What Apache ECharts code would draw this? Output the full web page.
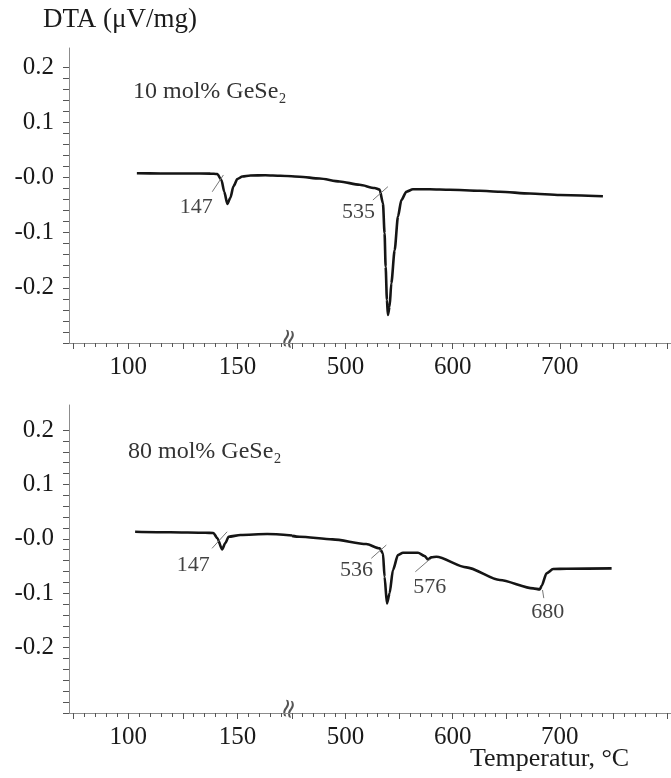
<!DOCTYPE html>
<html>
<head>
<meta charset="utf-8">
<script src="https://cdn.jsdelivr.net/npm/echarts@6/dist/echarts.min.js"></script>
<style>
  html, body { margin: 0; padding: 0; background: #fff; }
  #chart { width: 671px; height: 778px; }
</style>
</head>
<body>
<div id="chart"></div>
<script>
// temperatures (°C) and DTA signal (uV/mg), split at the axis break
var t10Left  = [104, 115, 128, 137.6, 140.8, 142.7, 144.0, 145.4, 146.8, 148.2, 150.0, 152.3, 156, 162.8, 169.7, 175];
var dta10Left = [0.0074, 0.0072, 0.0071, 0.0069, 0.0062, -0.0047, -0.026, -0.048, -0.037, -0.016, -0.003, 0.0016, 0.0034, 0.0038, 0.0029, 0.002];
var t10Right = [450, 457, 475.7, 494.4, 513.1, 527.1, 531.8, 534.9, 536.4, 537.4, 538.6, 539.5, 541.1, 542.7, 545.8, 548.9, 552.1, 556.7, 562.9, 578.5, 597.2, 625.2, 643.9, 672, 700, 740.2];
var dta10Right = [0.002, 0.0013, -0.002, -0.0074, -0.0134, -0.0192, -0.0219, -0.047, -0.101, -0.162, -0.222, -0.249, -0.234, -0.192, -0.132, -0.071, -0.041, -0.026, -0.0216, -0.0216, -0.0225, -0.0243, -0.0259, -0.0292, -0.0319, -0.0342];

var t80Left  = [103.2, 119.3, 135.3, 139.0, 140.8, 143.0, 144.5, 146.0, 151.4, 163.6, 175];
var dta80Left = [0.0131, 0.0121, 0.0112, 0.0107, 0.0015, -0.0193, -0.0077, 0.0039, 0.007, 0.0088, 0.0061];
var t80Right = [450, 457, 487.9, 519.3, 531.8, 534.9, 536.4, 538.6, 541.1, 544.2, 548.9, 553.6, 567.6, 573.8, 576.9, 580.1, 584.8, 612.8, 643.9, 675, 681.3, 682.9, 687.6, 693.7, 706.3, 748.3];
var dta80Right = [0.0055, 0.0039, -0.0009, -0.0096, -0.0175, -0.0267, -0.0697, -0.1186, -0.1002, -0.0574, -0.0298, -0.0256, -0.0256, -0.0316, -0.0377, -0.034, -0.0329, -0.0524, -0.0757, -0.091, -0.0928, -0.0868, -0.0634, -0.0555, -0.055, -0.0542];

// peak temperatures and where their numbers sit (data units)
var peaks10 = ['147', '535'];
var peakAt10 = [[131.2, -0.054], [512.1, -0.063]];
var peaks80 = ['147', '536', '576', '680'];
var peakAt80 = [[129.8, -0.048], [510.3, -0.057], [578.5, -0.0885], [688.8, -0.135]];

// small onset marker strokes [[t1, v1], [t2, v2]]
var marks10 = [[[138.5, -0.026], [143.6, 0.0044]], [[525.5, -0.041], [539.5, -0.0168]]];
var marks80 = [[[138.4, -0.0175], [145.3, 0.013]], [[524, -0.0358], [538, -0.0114]], [[565.1, -0.0605], [578.5, -0.0377]], [[683.8, -0.094], [685, -0.109]]];

var leftLabels = [100, 150];
var rightLabels = [500, 600, 700];
var samples = ['10 mol% GeSe\u2082', '80 mol% GeSe\u2082'];

var serif = '"Liberation Serif", "Times New Roman", serif';
var ink = '#1a1a1a';
var axisGrey = '#8c8c8c';
var tickGrey = '#555';

function zip(a, b) {
  var out = [];
  for (var i = 0; i < a.length; i++) out.push([a[i], b[i]]);
  return out;
}

function yFmt(v) {
  var r = Math.round(v * 10);
  if (Math.abs(v * 10 - r) > 1e-6 || Math.abs(v) > 0.2 + 1e-9) return '';
  return r === 0 ? '-0.0' : (r / 10).toFixed(1);
}

// panel geometry: frame grid holds the long axis lines, L/R grids hold the two x ranges
var panels = [
  { top: 48, frameH: 295, dataTop: 67, dataH: 276, ymin: -0.3 },
  { top: 405, frameH: 308.5, dataTop: 430, dataH: 283, ymin: -0.32 }
];

var grids = [], xAxes = [], yAxes = [];
panels.forEach(function (p) {
  var g0 = grids.length;
  grids.push({ left: 69, top: p.top, width: 602, height: p.frameH });
  grids.push({ left: 73.5, top: p.dataTop, width: 218.5, height: p.dataH });
  grids.push({ left: 292, top: p.dataTop, width: 375, height: p.dataH });

  // frame
  xAxes.push({ type: 'value', gridIndex: g0, min: 0, max: 1,
    axisLine: { onZero: false, lineStyle: { color: axisGrey, width: 1 } },
    axisTick: { show: false }, axisLabel: { show: false }, splitLine: { show: false } });
  yAxes.push({ type: 'value', gridIndex: g0, min: 0, max: 1,
    axisLine: { show: true, onZero: false, lineStyle: { color: axisGrey, width: 1 } },
    axisTick: { show: false }, axisLabel: { show: false }, splitLine: { show: false } });

  // left x range
  xAxes.push({ type: 'value', gridIndex: g0 + 1, min: 75, max: 175, interval: 25,
    axisLine: { show: false, onZero: false },
    axisTick: { length: 6, lineStyle: { color: tickGrey } },
    minorTick: { show: true, splitNumber: 5, length: 4, lineStyle: { color: tickGrey } },
    axisLabel: { margin: 12, color: ink, fontFamily: serif, fontSize: 25,
      formatter: function (v) { return leftLabels.indexOf(Math.round(v)) >= 0 ? String(Math.round(v)) : ''; } },
    splitLine: { show: false } });
  yAxes.push({ type: 'value', gridIndex: g0 + 1, min: p.ymin, max: 0.2, interval: 0.02, offset: 4.5,
    axisLine: { show: false, onZero: false },
    axisTick: { show: true, length: 6, lineStyle: { color: tickGrey } },
    axisLabel: { margin: 15, color: ink, fontFamily: serif, fontSize: 25, formatter: yFmt },
    splitLine: { show: false } });

  // right x range
  xAxes.push({ type: 'value', gridIndex: g0 + 2, min: 450, max: 800, interval: 50,
    axisLine: { show: false, onZero: false },
    axisTick: { length: 6, lineStyle: { color: tickGrey } },
    minorTick: { show: true, splitNumber: 5, length: 4, lineStyle: { color: tickGrey } },
    axisLabel: { margin: 12, color: ink, fontFamily: serif, fontSize: 25,
      formatter: function (v) { return rightLabels.indexOf(Math.round(v)) >= 0 ? String(Math.round(v)) : ''; } },
    splitLine: { show: false } });
  yAxes.push({ type: 'value', gridIndex: g0 + 2, min: p.ymin, max: 0.2, show: false });
});

var series = [];
function curve(ax, t, v) {
  series.push({ type: 'line', xAxisIndex: ax, yAxisIndex: ax, data: zip(t, v),
    showSymbol: false, smooth: 0.25, smoothMonotone: 'x', silent: true,
    lineStyle: { color: '#151515', width: 2.6 } });
}
function markers(axFor, marks) {
  marks.forEach(function (m) {
    var ax = axFor(m[0][0]);
    series.push({ type: 'line', xAxisIndex: ax, yAxisIndex: ax, data: m,
      showSymbol: false, silent: true, lineStyle: { color: '#777', width: 1 } });
  });
}
function peakText(axFor, names, at) {
  names.forEach(function (n, i) {
    var ax = axFor(at[i][0]);
    series.push({ type: 'scatter', xAxisIndex: ax, yAxisIndex: ax, symbolSize: 1, silent: true,
      itemStyle: { color: 'rgba(0,0,0,0)' },
      label: { show: true, position: 'inside', formatter: n, color: '#111', textBorderWidth: 0,
        fontFamily: serif, fontSize: 22 },
      data: [at[i]] });
  });
}

curve(1, t10Left, dta10Left);
curve(2, t10Right, dta10Right);
curve(4, t80Left, dta80Left);
curve(5, t80Right, dta80Right);
markers(function (t) { return t < 300 ? 1 : 2; }, marks10);
markers(function (t) { return t < 300 ? 4 : 5; }, marks80);
peakText(function (t) { return t < 300 ? 1 : 2; }, peaks10, peakAt10);
peakText(function (t) { return t < 300 ? 4 : 5; }, peaks80, peakAt80);

var breakMark = { text: '\u2248', font: '26px "DejaVu Sans"', fill: '#555', align: 'center', verticalAlign: 'middle' };
var graphic = [
  { type: 'text', left: 43, top: 6, style: { text: 'DTA (\u03bcV/mg)', font: '27px ' + serif, fill: ink } },
  { type: 'text', left: 133, top: 80, style: { text: samples[0], font: '24px ' + serif, fill: '#333' } },
  { type: 'text', left: 128, top: 440, style: { text: samples[1], font: '24px ' + serif, fill: '#333' } },
  { type: 'text', left: 470, top: 746, style: { text: 'Temperatur, \u00b0C', font: '26px ' + serif, fill: ink } },
  { type: 'text', x: 290, y: 339, rotation: Math.PI / 2 - 0.25, style: breakMark },
  { type: 'text', x: 290, y: 709, rotation: Math.PI / 2 - 0.25, style: breakMark }
];

var chart = echarts.init(document.getElementById('chart'));
chart.setOption({
  animation: false,
  backgroundColor: '#fff',
  grid: grids,
  xAxis: xAxes,
  yAxis: yAxes,
  graphic: graphic,
  series: series
});
</script>
</body>
</html>
